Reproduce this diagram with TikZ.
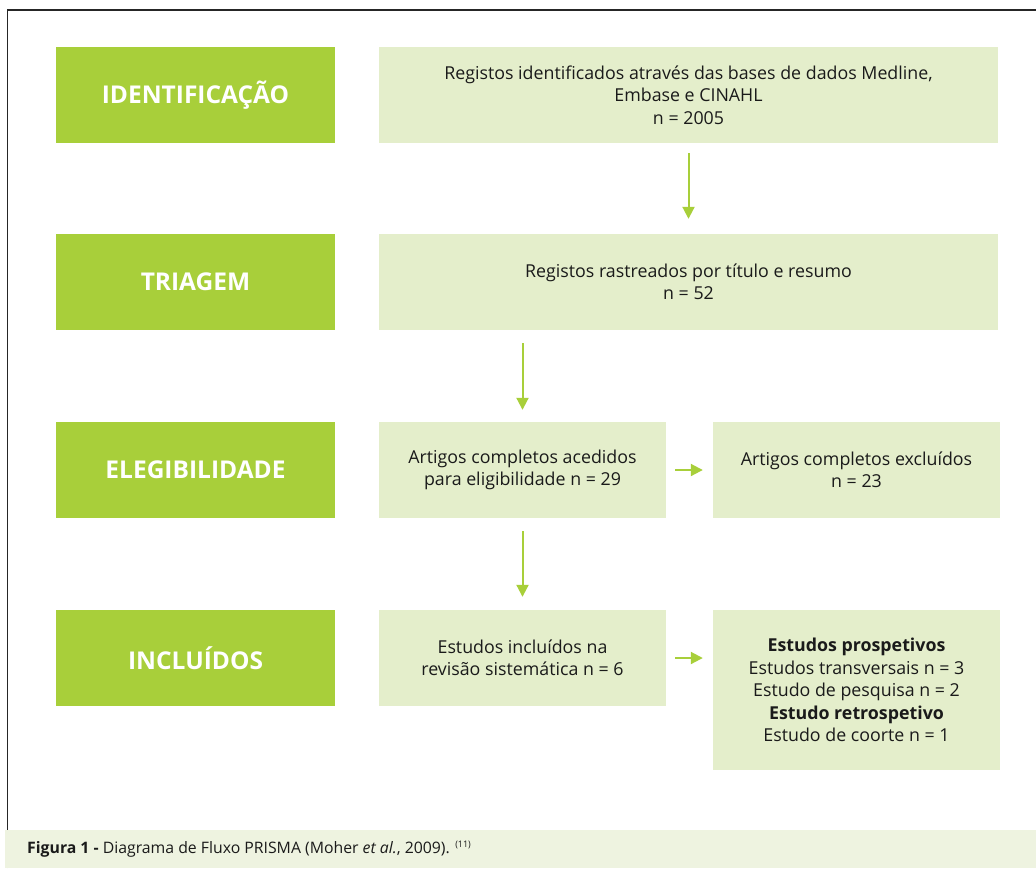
\documentclass[tikz,border=0pt]{standalone}
\usepackage{fontspec}
\setmainfont{Open Sans}
\usetikzlibrary{arrows.meta}
\definecolor{dgreen}{HTML}{A8CF3A}
\definecolor{lgreen}{HTML}{E4EECB}
\definecolor{capbg}{HTML}{EEF3E0}
\definecolor{txt}{HTML}{1A1A1A}
\tikzset{
  stage/.style={fill=dgreen, draw=none, text=white, font=\fontsize{24.5}{28}\selectfont\bfseries, inner sep=0pt},
  info/.style={fill=lgreen, draw=none, text=txt, align=center, font=\fontsize{17.8}{22.5}\selectfont, inner sep=0pt},
  flow/.style={draw=dgreen, line width=2pt, -{Triangle[length=12pt,width=12pt]}}
}
\begin{document}
\begin{tikzpicture}[x=1pt,y=-1pt]
\useasboundingbox (0,0) rectangle (1036,868);
% frame
\draw[line width=1.3pt, draw=black!85] (7.5,868) -- (7.5,10) -- (1036,10);
% caption band
\fill[capbg] (5,830) rectangle (1036,868);
\node[anchor=west, font=\fontsize{15.8}{18}\selectfont, text=txt, inner sep=0pt] (cap) at (27,849)
  {\textbf{Figura 1 -} Diagrama de Fluxo PRISMA (Moher \textit{et al.}, 2009). {\fontsize{9}{10}\selectfont\raisebox{6pt}{(11)}}};
% stage boxes
\node[stage, minimum width=279pt, minimum height=96pt] (s1) at (195.5,95) {IDENTIFICAÇÃO};
\node[stage, minimum width=279pt, minimum height=96pt] (s2) at (195.5,282) {TRIAGEM};
\node[stage, minimum width=279pt, minimum height=96pt] (s3) at (195.5,470) {ELEGIBILIDADE};
\node[stage, minimum width=279pt, minimum height=96pt] (s4) at (195.5,658) {INCLUÍDOS};
% info boxes
\node[info, minimum width=619pt, minimum height=96pt] (b1) at (688.5,95)
  {Registos identificados através das bases de dados Medline,\\ Embase e CINAHL\\ n = 2005};
\node[info, minimum width=619pt, minimum height=96pt] (b2) at (688.5,282)
  {Registos rastreados por título e resumo\\ n = 52};
\node[info, minimum width=287pt, minimum height=96pt] (b3) at (522.5,470)
  {Artigos completos acedidos\\ para eligibilidade n = 29};
\node[info, minimum width=287pt, minimum height=96pt] (b4) at (856.5,470)
  {Artigos completos excluídos\\ n = 23};
\node[info, minimum width=287pt, minimum height=96pt] (b5) at (522.5,658)
  {Estudos incluídos na\\ revisão sistemática n = 6};
\node[info, minimum width=287pt, minimum height=160pt] (b6) at (856.5,690)
  {\textbf{Estudos prospetivos}\\ Estudos transversais n = 3\\ Estudo de pesquisa n = 2\\ \textbf{Estudo retrospetivo}\\ Estudo de coorte n = 1};
% arrows
\draw[flow] ([yshift=-10pt]b1.south) -- ([yshift=15pt]b2.north);
\draw[flow] ([yshift=-13pt]b2.south -| b3) -- ([yshift=12pt]b3.north);
\draw[flow] ([yshift=-13pt]b3.south) -- ([yshift=13pt]b5.north);
\draw[flow] ([xshift=9pt]b3.east) -- ([xshift=-10pt]b4.west);
\draw[flow] ([xshift=9pt]b5.east) -- ([xshift=-10pt]b5.east -| b6.west);
\end{tikzpicture}
\end{document}
